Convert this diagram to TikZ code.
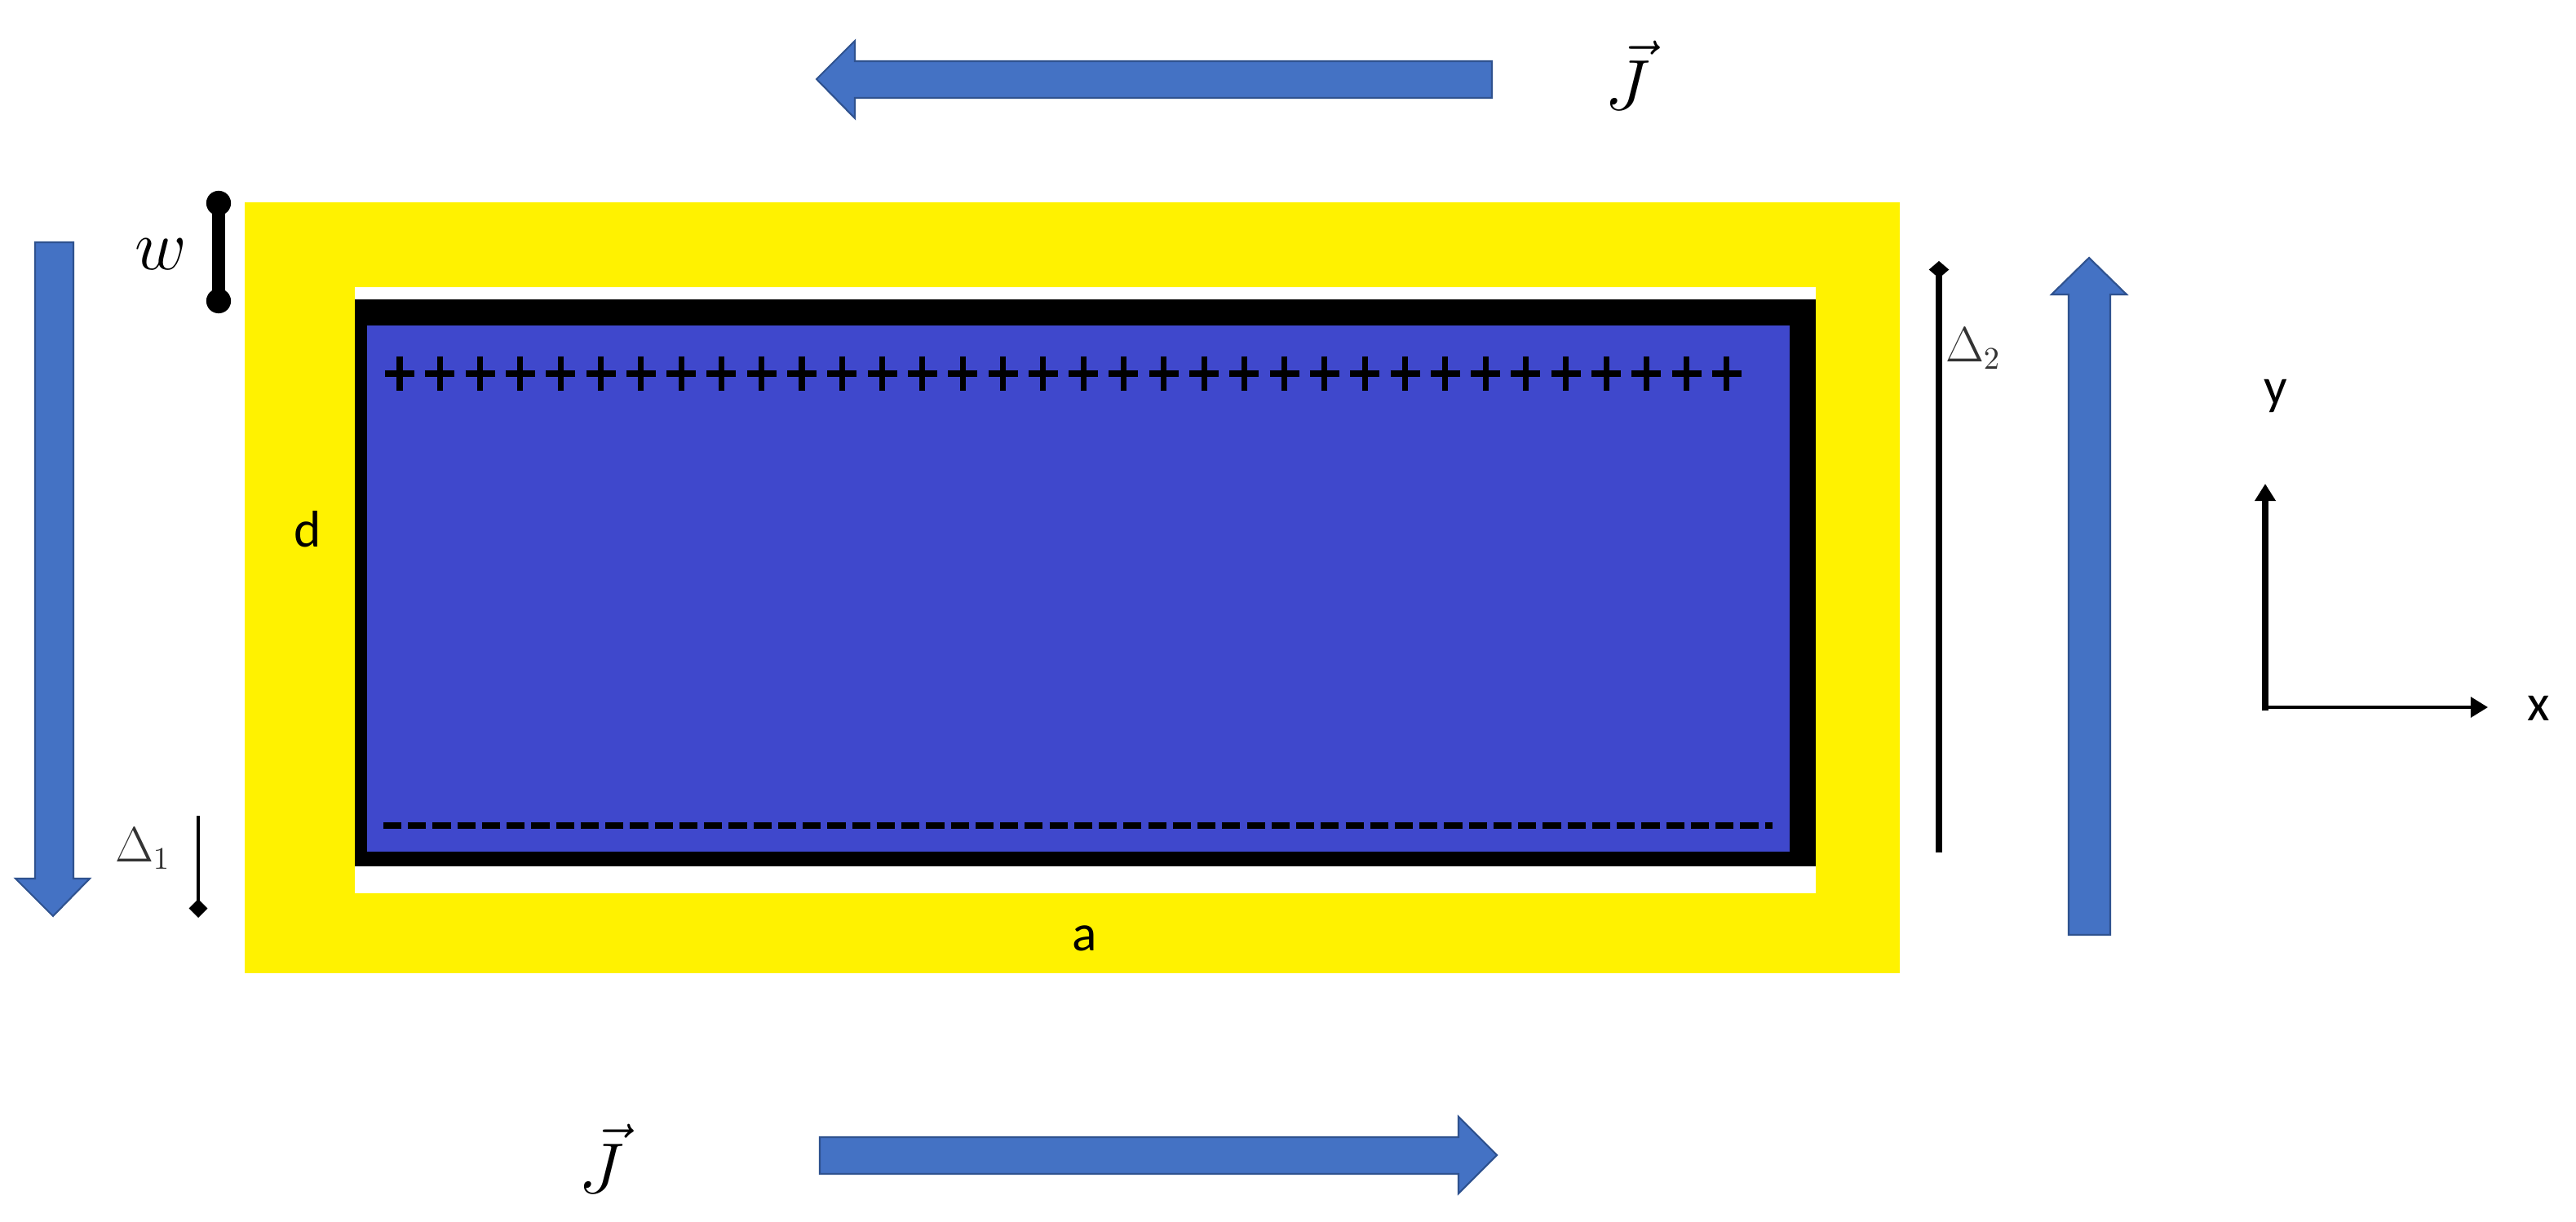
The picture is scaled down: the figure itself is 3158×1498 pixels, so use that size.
\documentclass[tikz,border=0pt]{standalone}
\usepackage{fontspec}
\newfontfamily\carlito{Carlito}
\usetikzlibrary{arrows.meta}
\definecolor{ylw}{HTML}{FFF200}
\definecolor{boxblue}{HTML}{3F48CC}
\definecolor{arrblue}{HTML}{4472C4}
\definecolor{arredge}{HTML}{2F528F}
\begin{document}
\begin{tikzpicture}[x=0.01cm,y=-0.01cm,
  blockarrow/.style={fill=arrblue,draw=arredge,line width=0.6pt,line join=miter},
  sanslabel/.style={font=\carlito\fontsize{18}{22}\selectfont,inner sep=0pt},
  mathlabel/.style={inner sep=0pt},
  plusmark/.style={line width=2pt,black},
  dimline/.style={black,line width=1.2pt},
  axisline/.style={black,-{Triangle[width=7pt,length=6pt]}}]
\useasboundingbox (0,0) rectangle (3158,1498);
\fill[white] (0,0) rectangle (3158,1498);
% conductor frame and capacitor
\fill[ylw] (300,248) rectangle (2329,1193);
\fill[white] (435,352) rectangle (2226,1095);
\fill[black] (435,367) rectangle (2226,1062);
\fill[boxblue] (450,399) rectangle (2194,1044);
% charges
\foreach \i in {0,...,33}{
  \draw[plusmark] ({490+\i*49.3},437) -- ++(0,42);
  \draw[plusmark] ({490+\i*49.3-18},458) -- ++(36,0);
}
\draw[black,line width=2pt,dash pattern=on 6.3pt off 2.3pt] (470,1012) -- (2173,1012);
% current arrows
\draw[blockarrow] (1829,75) -- (1048,75) -- (1048,50) -- (1001,97) -- (1048,145) -- (1048,120) -- (1829,120) -- cycle;
\draw[blockarrow] (1005,1394) -- (1788,1394) -- (1788,1369) -- (1835,1416) -- (1788,1463) -- (1788,1439) -- (1005,1439) -- cycle;
\draw[blockarrow] (43,297) -- (90,297) -- (90,1077) -- (110,1077) -- (65,1123) -- (19,1077) -- (43,1077) -- cycle;
\draw[blockarrow] (2536,1146) -- (2536,361) -- (2515,361) -- (2561,316) -- (2607,361) -- (2587,361) -- (2587,1146) -- cycle;
% labels J
\node[mathlabel] (Jtop) at (1995,92) {\fontsize{34}{40}\selectfont$\vec{J}$};
\node[mathlabel] (Jbot) at (737,1420) {\fontsize{34}{40}\selectfont$\vec{J}$};
% w dimension
\coordinate (wtop) at (268,249);
\coordinate (wbot) at (268,369);
\draw[black,line width=4.5pt] (wtop) -- (wbot);
\fill[black] (wtop) circle[radius=4.3pt];
\fill[black] (wbot) circle[radius=4.3pt];
\node[mathlabel] (wlab) at (197,312) {\fontsize{26}{30}\selectfont$w$};
% Delta 1
\coordinate (d1a) at (243,1000);
\coordinate (d1b) at (243,1125);
\draw[dimline,-{Turned Square[width=6.5pt,length=6.5pt]}] (d1a) -- (d1b);
\node[mathlabel,text=black!80] (d1lab) at (175,1040) {\fontsize{16}{19}\selectfont$\Delta_1$};
% Delta 2
\coordinate (d2a) at (2377,1045);
\coordinate (d2b) at (2377,320);
\draw[black,line width=2.2pt,-{Turned Square[width=7pt,length=6pt]}] (d2a) -- (d2b);
\node[mathlabel,text=black!80] (d2lab) at (2419,427) {\fontsize{16}{19}\selectfont$\Delta_2$};
% sans labels
\node[sanslabel] (dlab) at (377,649) {d};
\node[sanslabel] (alab) at (1330,1150) {a};
% axes
\coordinate (orig) at (2777,867);
\coordinate (ytip) at (2777,593);
\coordinate (xtip) at (3050,867);
\draw[axisline,line width=2.2pt] ([yshift=-1pt]orig) -- (ytip);
\draw[axisline,line width=1.2pt] ([xshift=-1pt]orig) -- (xtip);
\node[sanslabel] (ylab) at (2790,485) {y};
\node[sanslabel] (xlab) at (3112,868) {x};
\end{tikzpicture}
\end{document}
